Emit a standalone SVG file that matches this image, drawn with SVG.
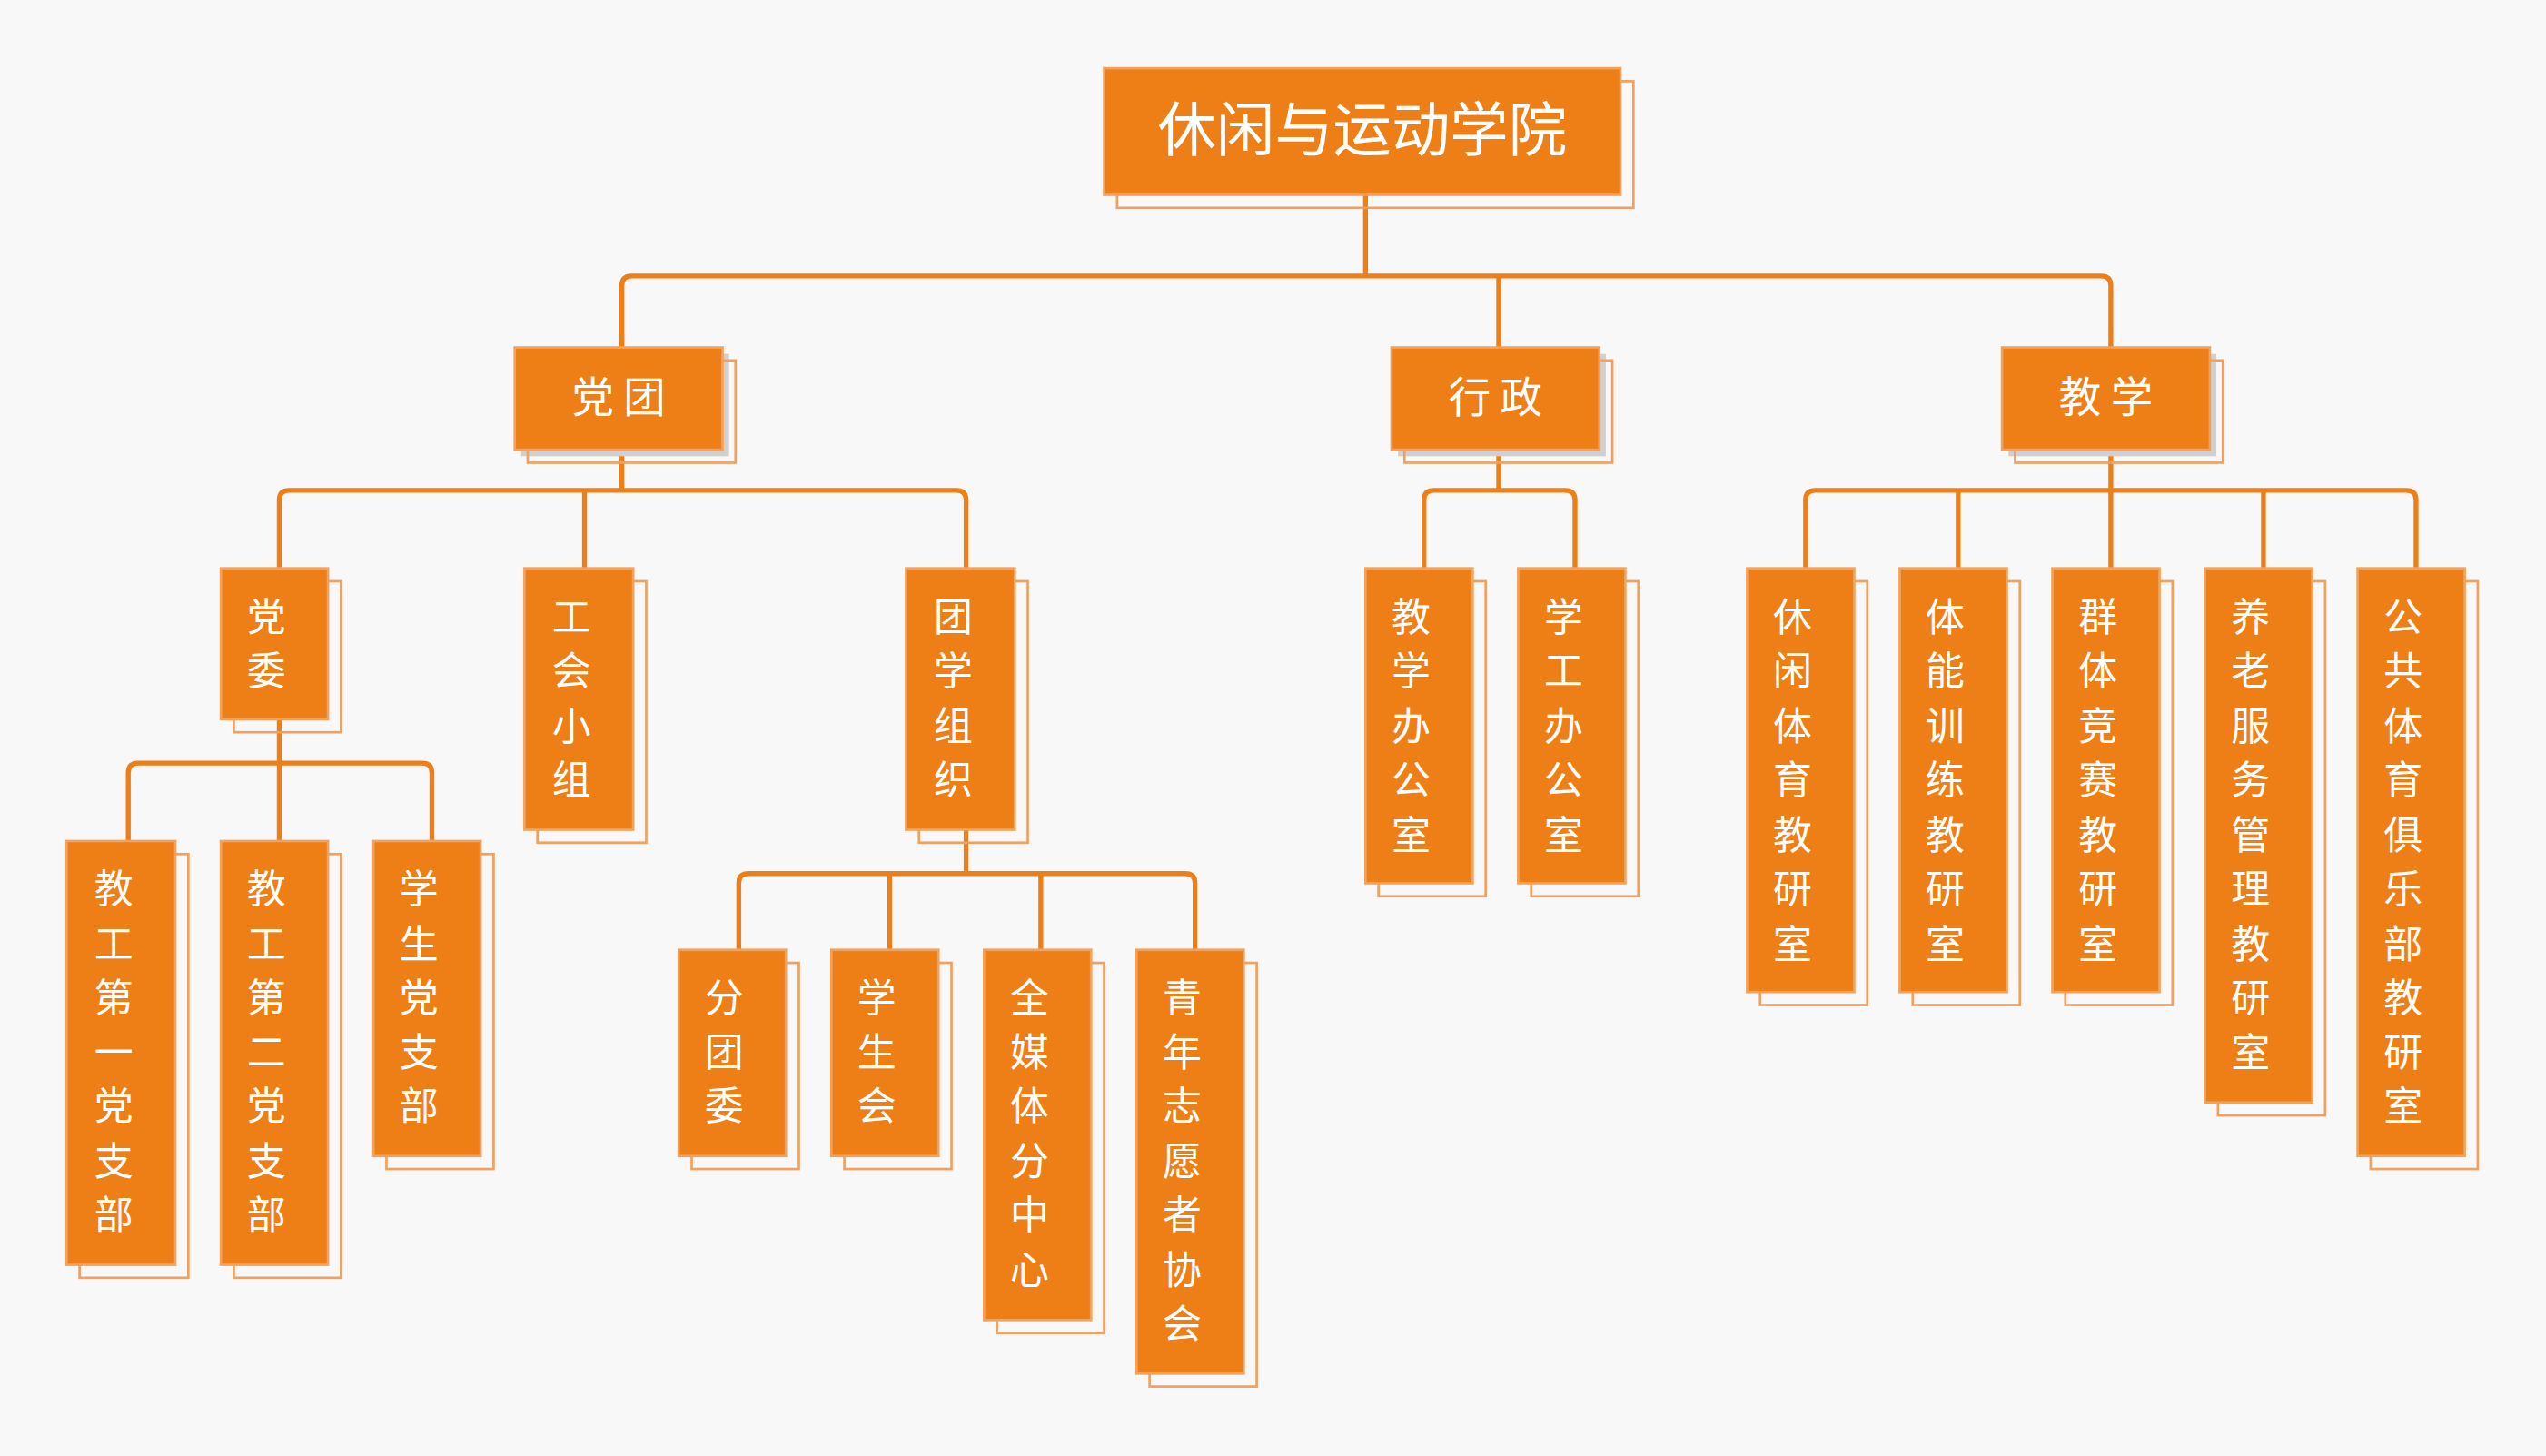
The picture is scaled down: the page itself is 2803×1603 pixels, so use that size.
<svg xmlns="http://www.w3.org/2000/svg" width="2803" height="1603" viewBox="0 0 2803 1603">
<style>
.m{fill:#EE7F17;stroke:#F2A25C;stroke-width:1.5}
.o{fill:none;stroke:#F0A060;stroke-width:1.5}
.g{fill:#D0D0D0}
.t{fill:#fff;font-family:"Noto Sans CJK SC",sans-serif;font-size:24px;text-anchor:middle}
.c{fill:none;stroke:#EE7F17;stroke-width:3;stroke-linejoin:round}
</style>
<rect width="2803" height="1603" fill="#F8F8F8"/>
<g transform="scale(1.7876)">
<g id="connectors" class="c">
<path d="M841 120V170M383 214V176Q383 170 389 170H1294Q1300 170 1300 176V214M923 170V214"/>
<path d="M383 277V302M172 350V308Q172 302 178 302H589Q595 302 595 308V350M360 302V350"/>
<path d="M172 443V470M79 518V476Q79 470 85 470H260Q266 470 266 476V518M172 470V518"/>
<path d="M595 511V538M455 585V544Q455 538 461 538H730Q736 538 736 544V585M548 538V585M641 538V585"/>
<path d="M923 277V302M877 350V308Q877 302 883 302H964Q970 302 970 308V350"/>
<path d="M1300 277V302M1112 350V308Q1112 302 1118 302H1482Q1488 302 1488 308V350M1206 302V350M1300 302V350M1394 302V350"/>
</g>
<g id="root"><rect class="o" x="688" y="50" width="318" height="78"/><rect class="m" x="680" y="42" width="318" height="78"/><text class="t" x="839" y="93" style="font-size:36px">休闲与运动学院</text></g>
<g id="dangtuan"><rect class="g" x="321" y="218" width="128" height="63"/><rect class="o" x="325" y="222" width="128" height="63"/><rect class="m" x="317" y="214" width="128" height="63"/><text class="t" x="381" y="254" style="font-size:26px">党 团</text></g>
<g id="xingzheng"><rect class="g" x="861" y="218" width="128" height="63"/><rect class="o" x="865" y="222" width="128" height="63"/><rect class="m" x="857" y="214" width="128" height="63"/><text class="t" x="921" y="254" style="font-size:26px">行 政</text></g>
<g id="jiaoxue"><rect class="g" x="1237" y="218" width="128" height="63"/><rect class="o" x="1241" y="222" width="128" height="63"/><rect class="m" x="1233" y="214" width="128" height="63"/><text class="t" x="1297" y="254" style="font-size:26px">教 学</text></g>

<g id="dangwei"><rect class="o" x="144" y="358" width="66" height="93"/><rect class="m" x="136" y="350" width="66" height="93"/><text class="t" x="164" y="389">党</text><text class="t" x="164" y="422">委</text></g>
<g id="gonghui"><rect class="o" x="331" y="358" width="67" height="161"/><rect class="m" x="323" y="350" width="67" height="161"/><text class="t" x="352" y="389">工</text><text class="t" x="352" y="422">会</text><text class="t" x="352" y="456">小</text><text class="t" x="352" y="489">组</text></g>
<g id="tuanxue"><rect class="o" x="566" y="358" width="67" height="161"/><rect class="m" x="558" y="350" width="67" height="161"/><text class="t" x="587" y="389">团</text><text class="t" x="587" y="422">学</text><text class="t" x="587" y="456">组</text><text class="t" x="587" y="489">织</text></g>

<g id="jg1"><rect class="o" x="49" y="526" width="67" height="261"/><rect class="m" x="41" y="518" width="67" height="261"/><text class="t" x="70" y="556">教</text><text class="t" x="70" y="590">工</text><text class="t" x="70" y="623">第</text><text class="t" x="70" y="657">一</text><text class="t" x="70" y="690">党</text><text class="t" x="70" y="724">支</text><text class="t" x="70" y="757">部</text></g>
<g id="jg2"><rect class="o" x="144" y="526" width="66" height="261"/><rect class="m" x="136" y="518" width="66" height="261"/><text class="t" x="164" y="556">教</text><text class="t" x="164" y="590">工</text><text class="t" x="164" y="623">第</text><text class="t" x="164" y="657">二</text><text class="t" x="164" y="690">党</text><text class="t" x="164" y="724">支</text><text class="t" x="164" y="757">部</text></g>
<g id="xsdzb"><rect class="o" x="238" y="526" width="66" height="194"/><rect class="m" x="230" y="518" width="66" height="194"/><text class="t" x="258" y="556">学</text><text class="t" x="258" y="590">生</text><text class="t" x="258" y="623">党</text><text class="t" x="258" y="657">支</text><text class="t" x="258" y="690">部</text></g>

<g id="fentuanwei"><rect class="o" x="426" y="593" width="66" height="127"/><rect class="m" x="418" y="585" width="66" height="127"/><text class="t" x="446" y="623">分</text><text class="t" x="446" y="657">团</text><text class="t" x="446" y="690">委</text></g>
<g id="xueshenghui"><rect class="o" x="520" y="593" width="66" height="127"/><rect class="m" x="512" y="585" width="66" height="127"/><text class="t" x="540" y="623">学</text><text class="t" x="540" y="657">生</text><text class="t" x="540" y="690">会</text></g>
<g id="quanmeiti"><rect class="o" x="614" y="593" width="66" height="228"/><rect class="m" x="606" y="585" width="66" height="228"/><text class="t" x="634" y="623">全</text><text class="t" x="634" y="657">媒</text><text class="t" x="634" y="690">体</text><text class="t" x="634" y="724">分</text><text class="t" x="634" y="757">中</text><text class="t" x="634" y="791">心</text></g>
<g id="zhiyuanzhe"><rect class="o" x="708" y="593" width="66" height="261"/><rect class="m" x="700" y="585" width="66" height="261"/><text class="t" x="728" y="623">青</text><text class="t" x="728" y="657">年</text><text class="t" x="728" y="690">志</text><text class="t" x="728" y="724">愿</text><text class="t" x="728" y="757">者</text><text class="t" x="728" y="791">协</text><text class="t" x="728" y="824">会</text></g>

<g id="jxbgs"><rect class="o" x="849" y="358" width="66" height="194"/><rect class="m" x="841" y="350" width="66" height="194"/><text class="t" x="869" y="389">教</text><text class="t" x="869" y="422">学</text><text class="t" x="869" y="456">办</text><text class="t" x="869" y="489">公</text><text class="t" x="869" y="523">室</text></g>
<g id="xgbgs"><rect class="o" x="943" y="358" width="66" height="194"/><rect class="m" x="935" y="350" width="66" height="194"/><text class="t" x="963" y="389">学</text><text class="t" x="963" y="422">工</text><text class="t" x="963" y="456">办</text><text class="t" x="963" y="489">公</text><text class="t" x="963" y="523">室</text></g>

<g id="xxty"><rect class="o" x="1084" y="358" width="66" height="261"/><rect class="m" x="1076" y="350" width="66" height="261"/><text class="t" x="1104" y="389">休</text><text class="t" x="1104" y="422">闲</text><text class="t" x="1104" y="456">体</text><text class="t" x="1104" y="489">育</text><text class="t" x="1104" y="523">教</text><text class="t" x="1104" y="556">研</text><text class="t" x="1104" y="590">室</text></g>
<g id="tnxl"><rect class="o" x="1178" y="358" width="66" height="261"/><rect class="m" x="1170" y="350" width="66" height="261"/><text class="t" x="1198" y="389">体</text><text class="t" x="1198" y="422">能</text><text class="t" x="1198" y="456">训</text><text class="t" x="1198" y="489">练</text><text class="t" x="1198" y="523">教</text><text class="t" x="1198" y="556">研</text><text class="t" x="1198" y="590">室</text></g>
<g id="qtjs"><rect class="o" x="1272" y="358" width="66" height="261"/><rect class="m" x="1264" y="350" width="66" height="261"/><text class="t" x="1292" y="389">群</text><text class="t" x="1292" y="422">体</text><text class="t" x="1292" y="456">竞</text><text class="t" x="1292" y="489">赛</text><text class="t" x="1292" y="523">教</text><text class="t" x="1292" y="556">研</text><text class="t" x="1292" y="590">室</text></g>
<g id="ylfw"><rect class="o" x="1366" y="358" width="66" height="329"/><rect class="m" x="1358" y="350" width="66" height="329"/><text class="t" x="1386" y="389">养</text><text class="t" x="1386" y="422">老</text><text class="t" x="1386" y="456">服</text><text class="t" x="1386" y="489">务</text><text class="t" x="1386" y="523">管</text><text class="t" x="1386" y="556">理</text><text class="t" x="1386" y="590">教</text><text class="t" x="1386" y="623">研</text><text class="t" x="1386" y="657">室</text></g>
<g id="ggty"><rect class="o" x="1460" y="358" width="66" height="362"/><rect class="m" x="1452" y="350" width="66" height="362"/><text class="t" x="1480" y="389">公</text><text class="t" x="1480" y="422">共</text><text class="t" x="1480" y="456">体</text><text class="t" x="1480" y="489">育</text><text class="t" x="1480" y="523">俱</text><text class="t" x="1480" y="556">乐</text><text class="t" x="1480" y="590">部</text><text class="t" x="1480" y="623">教</text><text class="t" x="1480" y="657">研</text><text class="t" x="1480" y="690">室</text></g>
</g>
</svg>
